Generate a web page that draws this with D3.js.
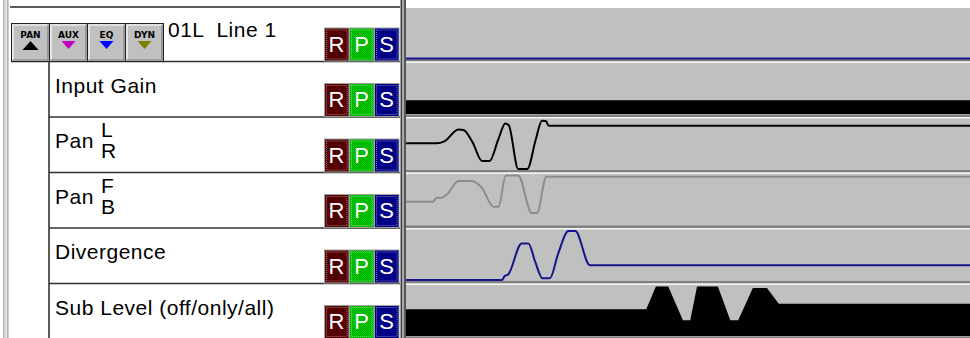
<!DOCTYPE html>
<meta charset="utf-8">
<style>
body { margin: 0; background: #fff; }
svg { display: block; }
.label { font: 21px "Liberation Sans", Arial, sans-serif; fill: #000; white-space: pre; letter-spacing: 0.5px; }
.mode { font: bold 9px "DejaVu Sans", sans-serif; fill: #000; text-anchor: middle; }
.rps { font: 22px "Liberation Sans", Arial, sans-serif; fill: #fff; text-anchor: middle; }
</style>
<svg width="970" height="338"></svg>
<script src="https://d3js.org/d3.v7.min.js"></script>
<script>

// rows of the automation view
var rows = ["01L  Line 1", "Input Gain", "Pan", "Pan", "Divergence", "Sub Level (off/only/all)"];
var panSides = [null, null, ["L", "R"], ["F", "B"], null, null];
var modeButtons = ["PAN", "AUX", "EQ", "DYN"];
var modeColors = ["#000", "#c000c0", "#0000ff", "#808000"];
var rpsKeys = ["R", "P", "S"];

// automation values: [time %, value %]
var masterLevel = [[0, 0], [100, 0]];
var inputGain = [[0, 28], [100, 28]];
var panLR = [[0, 53], [5.4, 53], [6.8, 57], [9.3, 81], [10.2, 80], [11.8, 55],
  [13.5, 17], [14.8, 17], [16.4, 62], [17.6, 93], [18.2, 90], [19.9, 1], [21.5, 1],
  [23.0, 60], [24.1, 98.6], [24.8, 98], [25.3, 88.5], [100, 88.5]];
var panFB = [[0, 47], [4.8, 47], [5.4, 55], [6.3, 55], [7.2, 61], [9.3, 89], [11.6, 89],
  [13.4, 76], [15.5, 37], [16.4, 37], [17.7, 100], [19.9, 100], [22.3, 24], [23.2, 24],
  [24.9, 97.6], [100, 97.6]];
var divergence = [[0, 1], [17.0, 1], [17.5, 9], [18.1, 12], [20.5, 75], [21.7, 75],
  [22.9, 38], [24.2, 4.4], [25.5, 4.4], [27.0, 55], [28.8, 100], [30.0, 100],
  [32.6, 31], [100, 31]];
var subLevel = [[0, 54], [42.6, 54], [44.3, 100], [46.5, 100], [49.1, 32], [50.4, 32],
  [51.6, 100], [55.3, 100], [57.5, 32], [58.9, 32], [61.5, 97], [64.0, 97],
  [66.1, 65], [100, 65]];

var lanes = [
  {data: masterLevel, type: "line", color: "#14148c", marker: true},
  {data: inputGain, type: "area", color: "#000"},
  {data: panLR, type: "line", color: "#000"},
  {data: panFB, type: "line", color: "#8c8c8c"},
  {data: divergence, type: "line", color: "#14148c", marker: true},
  {data: subLevel, type: "area", color: "#000", linear: true}
];

var svg = d3.select("svg");
var width = +svg.attr("width");

var laneX0 = 406, panelX0 = 10, panelX1 = 400, labelCol = 49;

var row = d3.scaleBand().domain(d3.range(rows.length)).range([6, 339]);
var x = d3.scaleLinear().domain([0, 100]).range([laneX0, width]);

function laneY(i) {
  var t = row(i), b = t + row.bandwidth();
  return d3.scaleLinear().domain([0, 100]).range([b - 3, t + 3]);
}

// dither patterns for the R P S buttons
var defs = svg.append("defs");
[["R", "#6c0000", "#3c0000"], ["P", "#00d000", "#00a800"], ["S", "#00009c", "#000070"]].forEach(function(p) {
  var pat = defs.append("pattern").attr("id", "pat" + p[0])
      .attr("width", 2).attr("height", 2).attr("patternUnits", "userSpaceOnUse");
  pat.append("rect").attr("width", 2).attr("height", 2).attr("fill", p[1]);
  pat.append("rect").attr("width", 1).attr("height", 1).attr("fill", p[2]);
  pat.append("rect").attr("x", 1).attr("y", 1).attr("width", 1).attr("height", 1).attr("fill", p[2]);
});

// left edge stripes
svg.append("rect").attr("x", 3).attr("y", 0).attr("width", 6).attr("height", 338).attr("fill", "#e4e4e4");
svg.append("rect").attr("x", 3).attr("y", 0).attr("width", 1.5).attr("height", 338).attr("fill", "#b4b4b4");
svg.append("rect").attr("x", 7).attr("y", 0).attr("width", 1.5).attr("height", 338).attr("fill", "#b4b4b4");

// lanes
lanes.forEach(function(lane, i) {
  var t = row(i), b = t + row.bandwidth(), y = laneY(i);
  var g = svg.append("g");
  g.append("rect").attr("x", laneX0).attr("y", i ? t : t + 2)
      .attr("width", width - laneX0).attr("height", b - t - (i ? 0 : 2)).attr("fill", "#c0c0c0");
  if (i) g.append("rect").attr("x", laneX0).attr("y", t).attr("width", width - laneX0)
      .attr("height", 1.5).attr("fill", "#f4f4f4");
  g.append("rect").attr("x", laneX0).attr("y", b - 2.5).attr("width", width - laneX0)
      .attr("height", 2.5).attr("fill", "#808080");

  var curve = lane.linear ? d3.curveLinear : d3.curveMonotoneX;
  if (lane.type === "area") {
    g.append("path").datum(lane.data)
        .attr("d", d3.area().curve(curve).x(function(d) { return x(d[0]); })
          .y0(y(0)).y1(function(d) { return y(d[1]); }))
        .attr("fill", lane.color);
  } else {
    g.append("path").datum(lane.data)
        .attr("d", d3.line().curve(curve).x(function(d) { return x(d[0]); })
          .y(function(d) { return y(d[1]); }))
        .attr("fill", "none").attr("stroke", lane.color).attr("stroke-width", 2);
  }
  if (lane.marker) {
    svg.append("rect").attr("x", laneX0 - 2).attr("y", y(lane.data[0][1]) - 1)
        .attr("width", 2).attr("height", 2).attr("fill", "#e0d000");
  }
});

// divider between panel and lanes
svg.append("rect").attr("x", 400.5).attr("y", 0).attr("width", 1.5).attr("height", 338).attr("fill", "#404040");
svg.append("rect").attr("x", 402).attr("y", 0).attr("width", 2).attr("height", 338).attr("fill", "#a8a8a8");
svg.append("rect").attr("x", 404).attr("y", 0).attr("width", 2).attr("height", 338).attr("fill", "#585858");

// panel lines
svg.append("line").attr("x1", panelX0).attr("x2", panelX1).attr("y1", 7).attr("y2", 7)
    .attr("stroke", "#222").attr("stroke-width", 1.5);
rows.forEach(function(r, i) {
  if (!i) return;
  svg.append("line").attr("x1", i === 1 ? 11 : labelCol).attr("x2", panelX1)
      .attr("y1", row(i)).attr("y2", row(i)).attr("stroke", "#333").attr("stroke-width", 1.6);
});
svg.append("line").attr("x1", labelCol).attr("x2", labelCol).attr("y1", row(1)).attr("y2", 338)
    .attr("stroke", "#333").attr("stroke-width", 1.6);

// mode buttons
var bw = 38, bx0 = 11, by0 = 23, by1 = row(1);
modeButtons.forEach(function(name, k) {
  var bx = bx0 + k * bw, g = svg.append("g");
  g.append("rect").attr("x", bx + 0.5).attr("y", by0 + 0.5).attr("width", bw).attr("height", by1 - by0 - 0.5)
      .attr("fill", "#c0c0c0").attr("stroke", "#222");
  g.append("path").attr("d", "M" + (bx + 2) + "," + (by1 - 2) + "V" + (by0 + 2) + "H" + (bx + bw - 1))
      .attr("fill", "none").attr("stroke", "#fff").attr("stroke-width", 1.2);
  g.append("path").attr("d", "M" + (bx + 2) + "," + (by1 - 1.5) + "H" + (bx + bw - 1) + "V" + (by0 + 2))
      .attr("fill", "none").attr("stroke", "#808080").attr("stroke-width", 1.2);
  var cx = bx + bw / 2 + 0.5;
  g.append("text").attr("class", "mode").attr("x", cx).attr("y", by0 + 15).text(name);
  var tri = k === 0
    ? [[cx - 8, by0 + 27], [cx + 8, by0 + 27], [cx, by0 + 18]]
    : [[cx - 7, by0 + 18], [cx + 7, by0 + 18], [cx, by0 + 26]];
  g.append("path").attr("d", "M" + tri.join("L") + "Z").attr("fill", modeColors[k]);
});

// labels
rows.forEach(function(r, i) {
  var t = row(i);
  svg.append("text").attr("class", "label")
      .attr("x", i ? 55 : 168).attr("y", t + 31).text(r);
  if (panSides[i]) {
    svg.append("text").attr("class", "label").attr("x", 101).attr("y", t + 20).text(panSides[i][0]);
    svg.append("text").attr("class", "label").attr("x", 101).attr("y", t + 41).text(panSides[i][1]);
  }
});

// R P S buttons
rows.forEach(function(r, i) {
  var b = row(i) + row.bandwidth();
  rpsKeys.forEach(function(k, j) {
    var rx = 324 + j * 25, ry = b - 34;
    svg.append("rect").attr("x", rx + 0.5).attr("y", ry + 0.5).attr("width", 24.5).attr("height", 33)
        .attr("fill", "url(#pat" + k + ")").attr("stroke", "#a0a0a0");
    svg.append("rect").attr("x", rx + 2.5).attr("y", ry + 2.5).attr("width", 20.5).attr("height", 29)
        .attr("fill", "none").attr("stroke", "#fff").attr("stroke-opacity", 0.45).attr("stroke-dasharray", "1,1");
    svg.append("text").attr("class", "rps").attr("x", rx + 12.5).attr("y", b - 10).text(k);
  });
});

</script>
